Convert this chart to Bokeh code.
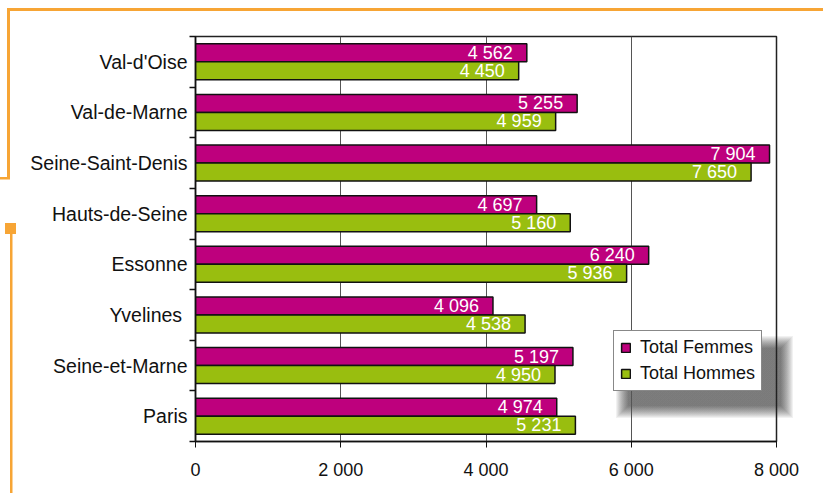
import numpy as np
from bokeh.plotting import figure
from bokeh.models import Range1d, FixedTicker, Legend, LegendItem, ColumnDataSource
from bokeh.core.properties import value
from bokeh.embed import file_html
from bokeh.resources import INLINE

# ---- data (bottom to top, as drawn) ----
departements = ["Paris", "Seine-et-Marne", "Yvelines\u00a0", "Essonne",
                "Hauts-de-Seine", "Seine-Saint-Denis", "Val-de-Marne", "Val-d'Oise"]
femmes = [4974, 5197, 4096, 6240, 4697, 7904, 5255, 4562]
hommes = [5231, 4950, 4538, 5936, 5160, 7650, 4959, 4450]
series_names = ["Total Femmes", "Total Hommes"]
x_ticks = [0, 2000, 4000, 6000, 8000]
x_tick_labels = ["0", "2 000", "4 000", "6 000", "8 000"]

FONT = "Liberation Sans"
MAGENTA = "#BE007D"
GREEN = "#99BE0F"
ORANGE = "#F7A535"

W, H = 823, 493
FL, FT, FR, FB = 195, 36, 776, 441   # frame edges in px

p = figure(width=W, height=H, output_backend="svg", toolbar_location=None,
           x_range=Range1d(0, 8000), y_range=Range1d(0, len(departements)),
           min_border_left=FL, min_border_top=FT, min_border_right=W - FR,
           min_border_bottom=H - FB)
p.background_fill_alpha = 0
p.border_fill_alpha = 0
p.outline_line_color = "#222222"
p.outline_line_width = 1.5

n = len(departements)
centers = np.arange(n) + 0.5
off = 0.1775
bh = 0.355

def fmt(v):
    return f"{v:,}".replace(",", " ")

src_f = ColumnDataSource(dict(y=centers + off, v=femmes, lab=[fmt(v) for v in femmes]))
src_h = ColumnDataSource(dict(y=centers - off, v=hommes, lab=[fmt(v) for v in hommes]))

r_f = p.hbar(y="y", left=0, right="v", height=bh, source=src_f,
             fill_color=MAGENTA, line_color="#111111", line_width=1.5)
r_h = p.hbar(y="y", left=0, right="v", height=bh, source=src_h,
             fill_color=GREEN, line_color="#111111", line_width=1.5)

for src in (src_f, src_h):
    p.text(x="v", y="y", text="lab", source=src, text_align="right",
           text_baseline="middle", x_offset=-14, text_color="white",
           text_font=value(FONT), text_font_size="18px")

# axes
p.xaxis.ticker = FixedTicker(ticks=x_ticks)
p.xaxis.major_label_overrides = {t: l for t, l in zip(x_ticks, x_tick_labels)}
p.xaxis.major_tick_in = 0
p.xaxis.major_tick_out = 6
p.xaxis.minor_tick_line_color = None
p.xaxis.axis_line_width = 1.5
p.xaxis.axis_line_color = "#111111"
p.xaxis.major_tick_line_color = "#111111"
p.xaxis.major_label_text_font = FONT
p.xaxis.major_label_text_font_size = "18px"
p.xaxis.major_label_text_color = "#111111"
p.xaxis.major_label_standoff = 12

p.yaxis.ticker = FixedTicker(ticks=list(centers), minor_ticks=list(range(n + 1)))
p.yaxis.major_label_overrides = {float(c): d for c, d in zip(centers, departements)}
p.yaxis.major_tick_line_color = None
p.yaxis.major_tick_in = 0
p.yaxis.major_tick_out = 0
p.yaxis.minor_tick_in = 0
p.yaxis.minor_tick_out = 6
p.yaxis.minor_tick_line_color = "#111111"
p.yaxis.minor_tick_line_width = 1.5
p.yaxis.axis_line_width = 1.5
p.yaxis.axis_line_color = "#111111"
p.yaxis.major_label_text_font = FONT
p.yaxis.major_label_text_font_size = "19.5px"
p.yaxis.major_label_text_color = "#111111"
p.yaxis.major_label_standoff = 2

p.xgrid.ticker = FixedTicker(ticks=x_ticks[1:])
p.xgrid.grid_line_color = "#555555"
p.xgrid.grid_line_width = 1
p.ygrid.grid_line_color = None

# legend box geometry (px)
LX, LY, LW, LH = 613, 333, 153, 58
legend = Legend(items=[LegendItem(label=series_names[0], renderers=[r_f]),
                       LegendItem(label=series_names[1], renderers=[r_h])],
                location=(LX - FL, FB - (LY + LH)), orientation="vertical",
                label_text_font=FONT, label_text_font_size="18px",
                label_text_color="#111111", glyph_width=11, glyph_height=11,
                label_standoff=9, label_height=20, spacing=5, padding=6,
                margin=0, border_line_color="#111111", border_line_width=1,
                background_fill_color="white", background_fill_alpha=1.0)
p.add_layout(legend, "center")

# decorative orange frame + legend drop shadow, painted as CSS background
layers = []
def css_box(color, x, y, w, h):
    layers.append(f"linear-gradient({color},{color}) {x}px {y}px / {w}px {h}px no-repeat")

css_box(ORANGE, 8, 8, W - 8, 3)
css_box(ORANGE, 7, 8, 3, 171)
css_box(ORANGE, 0, 177, 10, 2.5)
css_box(ORANGE, 5, 223, 11, 11)
css_box(ORANGE, 9.5, 234, 2.5, H - 234)
sh = "rgba(0,0,0,0.055)"
for i in range(13):
    e = 12 - i
    css_box(sh, LX + 15 - e, LY + 15 - e, LW + 2 * e, LH + 2 * e)

p.styles = {"background": ", ".join(layers) + ", white"}

html = file_html(p, INLINE)
open("out.html", "w").write(html)
